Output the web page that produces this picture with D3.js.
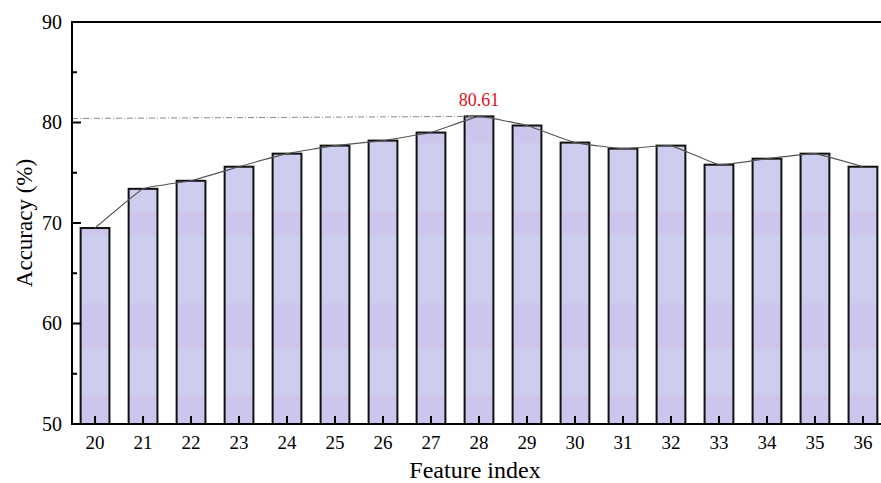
<!DOCTYPE html>
<html>
<head>
<meta charset="utf-8">
<script src="https://cdn.jsdelivr.net/npm/d3@7"></script>
<style>
  body { margin: 0; background: #fff; }
  svg text { font-family: "Liberation Serif", "DejaVu Serif", serif; }
</style>
</head>
<body>
<div id="chart"></div>
<script>
// chart size (same as the window)
const width = 881;
const height = 483;
const margin = {left: 72, right: -5, top: 22, bottom: 59};

// data
const features = [20, 21, 22, 23, 24, 25, 26, 27, 28, 29, 30, 31, 32, 33, 34, 35, 36];
const accuracy = [69.5, 73.4, 74.2, 75.6, 76.9, 77.7, 78.2, 79.0, 80.61, 79.7, 78.0, 77.4, 77.7, 75.8, 76.4, 76.9, 75.6];
const yTicks = [50, 60, 70, 80, 90];
const yMinorTicks = [55, 65, 75, 85];
const bestLabel = "80.61";

const svg = d3.select("#chart")
  .append("svg")
  .attr("width", width)
  .attr("height", height);

// scales
const xScale = d3.scaleLinear()
  .domain([19.52, 36.48])
  .range([margin.left, width - margin.right]);

const yScale = d3.scaleLinear()
  .domain([50, 90])
  .range([height - margin.bottom, margin.top]);

const step = xScale(21) - xScale(20);
const barW = step * 0.6;

// striped lavender fill, like the original export
const grad = svg.append("defs").append("linearGradient")
  .attr("id", "barFill")
  .attr("gradientUnits", "userSpaceOnUse")
  .attr("x1", 0).attr("x2", 0)
  .attr("y1", yScale(90)).attr("y2", yScale(50));

const light = "#cdcdef";
const purple = "#cdc5ec";
const bands = [[80.6, 78.0], [71.1, 68.8], [62.0, 57.5], [52.9, 50]];
const span = yScale(50) - yScale(90);
const off = v => (yScale(v) - yScale(90)) / span;
let stops = [[0, light]];
bands.forEach(b => {
  stops.push([off(b[0]), light], [off(b[0]), purple], [off(b[1]), purple], [off(b[1]), light]);
});
stops.push([1, light]);
grad.selectAll("stop")
  .data(stops)
  .enter()
  .append("stop")
    .attr("offset", d => d[0])
    .attr("stop-color", d => d[1]);

const data = features.map((f, i) => ({f: f, v: accuracy[i]}));

// bars
svg.selectAll(".bar")
  .data(data)
  .enter()
  .append("rect")
    .attr("class", "bar")
    .attr("x", d => xScale(d.f) - barW / 2)
    .attr("y", d => yScale(d.v))
    .attr("width", barW)
    .attr("height", d => yScale(50) - yScale(d.v))
    .attr("fill", "url(#barFill)")
    .attr("stroke", "#111")
    .attr("stroke-width", 2);

// dash-dot reference line to the best bar
const best = data[d3.maxIndex(data, d => d.v)];
svg.append("line")
  .attr("x1", xScale(19.52))
  .attr("y1", yScale(80.4))
  .attr("x2", xScale(best.f))
  .attr("y2", yScale(best.v))
  .attr("stroke", "#888")
  .attr("stroke-width", 1)
  .attr("stroke-dasharray", "6,2,1,2");

// trend line through the bar tops
const line = d3.line()
  .x(d => xScale(d.f))
  .y(d => yScale(d.v))
  .curve(d3.curveCardinal.tension(0.75));

svg.append("path")
  .datum(data)
  .attr("d", line)
  .attr("fill", "none")
  .attr("stroke", "#555")
  .attr("stroke-width", 1.1);

// label on best value
svg.append("text")
  .attr("x", xScale(best.f))
  .attr("y", yScale(best.v) - 10)
  .attr("text-anchor", "middle")
  .attr("font-size", "18px")
  .attr("fill", "#e0101a")
  .text(bestLabel);

// axes
const yAxis = svg.append("g")
  .attr("transform", `translate(${margin.left},0)`);
yAxis.append("line")
  .attr("x1", 0).attr("x2", 0)
  .attr("y1", yScale(90)).attr("y2", yScale(50))
  .attr("stroke", "#000").attr("stroke-width", 2);
yAxis.selectAll(".ymaj")
  .data(yTicks)
  .enter()
  .append("line")
    .attr("x1", 0).attr("x2", 9)
    .attr("y1", d => yScale(d)).attr("y2", d => yScale(d))
    .attr("stroke", "#000").attr("stroke-width", 2);
yAxis.selectAll(".ymin")
  .data(yMinorTicks)
  .enter()
  .append("line")
    .attr("x1", 0).attr("x2", 5)
    .attr("y1", d => yScale(d)).attr("y2", d => yScale(d))
    .attr("stroke", "#000").attr("stroke-width", 2);
yAxis.selectAll(".ylab")
  .data(yTicks)
  .enter()
  .append("text")
    .attr("x", -10)
    .attr("y", d => yScale(d))
    .attr("dy", "0.33em")
    .attr("text-anchor", "end")
    .attr("font-size", "20px")
    .text(d => d);

// top frame line
svg.append("line")
  .attr("x1", margin.left - 1).attr("x2", width)
  .attr("y1", yScale(90)).attr("y2", yScale(90))
  .attr("stroke", "#000").attr("stroke-width", 2);

// bottom axis
const xAxis = svg.append("g");
xAxis.append("line")
  .attr("x1", margin.left - 1).attr("x2", width)
  .attr("y1", yScale(50)).attr("y2", yScale(50))
  .attr("stroke", "#000").attr("stroke-width", 2);
xAxis.selectAll(".xt")
  .data(features)
  .enter()
  .append("line")
    .attr("x1", d => xScale(d)).attr("x2", d => xScale(d))
    .attr("y1", yScale(50)).attr("y2", yScale(50) - 8)
    .attr("stroke", "#000").attr("stroke-width", 2);
xAxis.selectAll(".xlab")
  .data(features)
  .enter()
  .append("text")
    .attr("x", d => xScale(d))
    .attr("y", 449)
    .attr("text-anchor", "middle")
    .attr("font-size", "19px")
    .text(d => d);

// axis titles
svg.append("text")
  .attr("x", (xScale(19.52) + xScale(36.48)) / 2 - 4)
  .attr("y", 478)
  .attr("text-anchor", "middle")
  .attr("font-size", "24px")
  .text("Feature index");

svg.append("text")
  .attr("transform", `translate(32,${(yScale(50) + yScale(90)) / 2}) rotate(-90)`)
  .attr("text-anchor", "middle")
  .attr("font-size", "23px")
  .text("Accuracy (%)");
</script>
</body>
</html>
